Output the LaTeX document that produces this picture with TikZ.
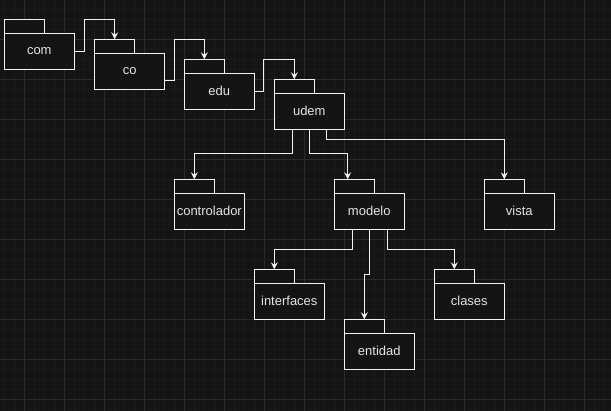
\documentclass[tikz,border=0pt]{standalone}
\usepackage{fontspec}
\setmainfont{Liberation Sans}
\usetikzlibrary{arrows.meta}
\definecolor{bgc}{HTML}{141414}
\definecolor{minorc}{HTML}{1B1B1B}
\definecolor{majorc}{HTML}{2A2A2A}
\definecolor{linec}{HTML}{F2F2F2}
\definecolor{textc}{HTML}{E4E4E4}
\tikzset{
  pkgbody/.style={draw=linec, fill=bgc, line width=1pt, minimum width=70pt, minimum height=36pt, inner sep=0pt, outer sep=0pt, anchor=north west, font=\fontsize{13}{15}\selectfont, text=textc},
  pkgtab/.style={draw=linec, fill=bgc, line width=1pt, minimum width=40pt, minimum height=14pt, inner sep=0pt, outer sep=0pt, anchor=north west},
  conn/.style={draw=linec, line width=1pt, -{Stealth[length=7pt,width=7pt,inset=2.5pt]}}
}
\begin{document}
\begin{tikzpicture}[x=1pt,y=-1pt]
\fill[bgc] (0,0) rectangle (611,411);
\useasboundingbox (0,0) rectangle (611,411);
% minor grid
\foreach \i in {0,...,61} {\draw[minorc,line width=0.8pt] (4.5+10*\i,0) -- (4.5+10*\i,411);}
\foreach \j in {0,...,41} {\draw[minorc,line width=0.8pt] (0,-0.7+10*\j) -- (611,-0.7+10*\j);}
% major grid
\foreach \i in {0,...,15} {\draw[majorc,line width=1pt] (24.5+40*\i,0) -- (24.5+40*\i,411);}
\foreach \j in {0,...,10} {\draw[majorc,line width=1pt] (0,39.3+40*\j) -- (611,39.3+40*\j);}
% packages
\node[pkgtab] (comtab) at (4.3,19.3) {};
\node[pkgbody] (com) at (4.3,33.3) {com};
\node[pkgtab] (cotab) at (94.7,39.3) {};
\node[pkgbody] (co) at (94.7,53.3) {co};
\node[pkgtab] (edutab) at (184.3,59.3) {};
\node[pkgbody] (edu) at (184.3,73.3) {edu};
\node[pkgtab] (udemtab) at (274.3,79.3) {};
\node[pkgbody] (udem) at (274.3,93.3) {udem};
\node[pkgtab] (controladortab) at (174.3,179.3) {};
\node[pkgbody] (controlador) at (174.3,193.3) {controlador};
\node[pkgtab] (modelotab) at (334.3,179.3) {};
\node[pkgbody] (modelo) at (334.3,193.3) {modelo};
\node[pkgtab] (vistatab) at (484.3,179.3) {};
\node[pkgbody] (vista) at (484.3,193.3) {vista};
\node[pkgtab] (interfacestab) at (254.3,269.3) {};
\node[pkgbody] (interfaces) at (254.3,283.3) {interfaces};
\node[pkgtab] (clasestab) at (434.3,269.3) {};
\node[pkgbody] (clases) at (434.3,283.3) {clases};
\node[pkgtab] (entidadtab) at (344.3,319.3) {};
\node[pkgbody] (entidad) at (344.3,333.3) {entidad};
% connectors
\draw[conn] (com.east) -- ++(10,0) |- ([yshift=20pt]cotab.north) -- (cotab.north);
\draw[conn] ([yshift=-9pt]co.east) -- ++(9.6,0) |- ([yshift=20pt]edutab.north) -- (edutab.north);
\draw[conn] (edu.east) -- ++(9.6,0) |- ([yshift=20pt]udemtab.north) -- (udemtab.north);
\draw[conn] ([xshift=-17pt]udem.south) -- ++(0,24.7) -| (controladortab.north);
\draw[conn] (udem.south) -- ++(0,24.7) -| ([xshift=-6.6pt]modelotab.north);
\draw[conn] ([xshift=17.4pt]udem.south) -- ++(0,10) -| (vistatab.north);
\draw[conn] ([xshift=-17.3pt]modelo.south) -- ++(0,20) -| (interfacestab.north);
\draw[conn] (modelo.south) -- ++(0,45) -| (entidadtab.north);
\draw[conn] ([xshift=17.7pt]modelo.south) -- ++(0,20) -| (clasestab.north);
\end{tikzpicture}
\end{document}
